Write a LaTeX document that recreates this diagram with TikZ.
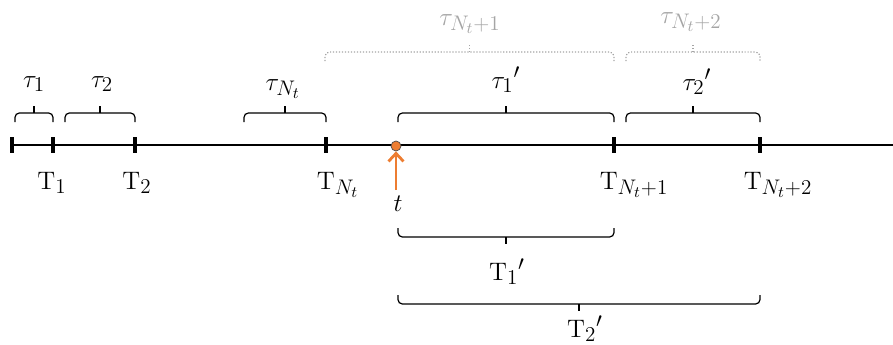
\documentclass[tikz,border=0pt]{standalone}
\usepackage{amsmath}
\usetikzlibrary{arrows.meta,positioning,calc}
\DeclareMathSizes{14.5}{14.5}{11.5}{9}
\definecolor{ptorange}{RGB}{237,125,49}
\definecolor{ghostgray}{RGB}{165,165,165}
\tikzset{
  axis/.style={line width=1.4pt},
  tick/.style={line width=1.8pt},
  brc/.style={line width=0.7pt},
  gbrc/.style={brc,draw=ghostgray,densely dotted},
  lbl/.style={anchor=base,inner sep=0pt,font=\fontsize{14.5}{17}\selectfont},
  glbl/.style={lbl,text=ghostgray},
}
% brace with square-ish ends: #2 from x, #3 to x, #4 baseline y, #5 sign (-1 up, 1 down)
\newcommand{\sqbrace}[5][]{%
  \draw[brc,#1,rounded corners=2.5pt] (#2,#4) -- (#2,#4+#5*9) -- (#3,#4+#5*9) -- (#3,#4);
  \draw[brc,#1] ({(#2+#3)/2},#4+#5*9) -- ({(#2+#3)/2},#4+#5*16);}
\begin{document}
\begin{tikzpicture}[x=0.02cm,y=-0.02cm]
  \useasboundingbox (0,0) rectangle (893,345);
  % time axis with arrival ticks
  \coordinate (a0) at (12,145);
  \coordinate (aend) at (893,145);
  \draw[axis] (a0) -- (aend);
  \foreach \n/\x in {0/12,1/53,2/135,nt/326,nt1/614,nt2/760}
    \coordinate (t\n) at (\x,145);
  \foreach \n in {0,1,2,nt,nt1,nt2}
    \draw[tick] ($(t\n)+(0,-8)$) -- ($(t\n)+(0,8)$);
  % observation time
  \node[circle,fill=ptorange,draw=black!70,line width=0.4pt,inner sep=0pt,minimum size=0.2cm] (dot) at (396,146) {};
  \coordinate (arrtail) at (396,190);
  \draw[ptorange,line width=1.6pt,-{Straight Barb[length=1.6mm,width=3mm]}] (arrtail) -- (dot.south);
  % labels below the axis
  \node[lbl] (lT1) at (52,189) {$\mathrm{T}_1$};
  \node[lbl] (lT2) at (137,189) {$\mathrm{T}_2$};
  \node[lbl] (lTnt) at (338,189) {$\mathrm{T}_{N_t}$};
  \node[lbl] (lt) at (398,211) {$t$};
  \node[lbl] (lTnt1) at (634,189) {$\mathrm{T}_{N_t+1}$};
  \node[lbl] (lTnt2) at (778,189) {$\mathrm{T}_{N_t+2}$};
  % inter-arrival braces above
  \sqbrace{15}{53}{122}{-1}
  \sqbrace{65}{135}{122}{-1}
  \sqbrace{244}{326}{122}{-1}
  \sqbrace{398}{614}{122}{-1}
  \sqbrace{626}{760}{122}{-1}
  \node[lbl] (tau1) at (34,87) {$\tau_1$};
  \node[lbl] (tau2) at (102,87) {$\tau_2$};
  \node[lbl] (taunt) at (283,90) {$\tau_{N_t}$};
  \node[lbl] (tau1p) at (506,88) {$\tau_1{}'$};
  \node[lbl] (tau2p) at (697,90) {$\tau_2{}'$};
  % original inter-arrivals (grey, dotted)
  \sqbrace[gbrc]{325}{614}{61}{-1}
  \sqbrace[gbrc]{626}{760}{61}{-1}
  \node[glbl] (taunt1) at (470,25) {$\tau_{N_t+1}$};
  \node[glbl] (taunt2) at (691,23) {$\tau_{N_t+2}$};
  % residual times below
  \sqbrace{398}{614}{228}{1}
  \sqbrace{398}{760}{295}{1}
  \node[lbl] (T1p) at (507,280) {$\mathrm{T}_1{}'$};
  \node[lbl] (T2p) at (585,337) {$\mathrm{T}_2{}'$};
\end{tikzpicture}
\end{document}
